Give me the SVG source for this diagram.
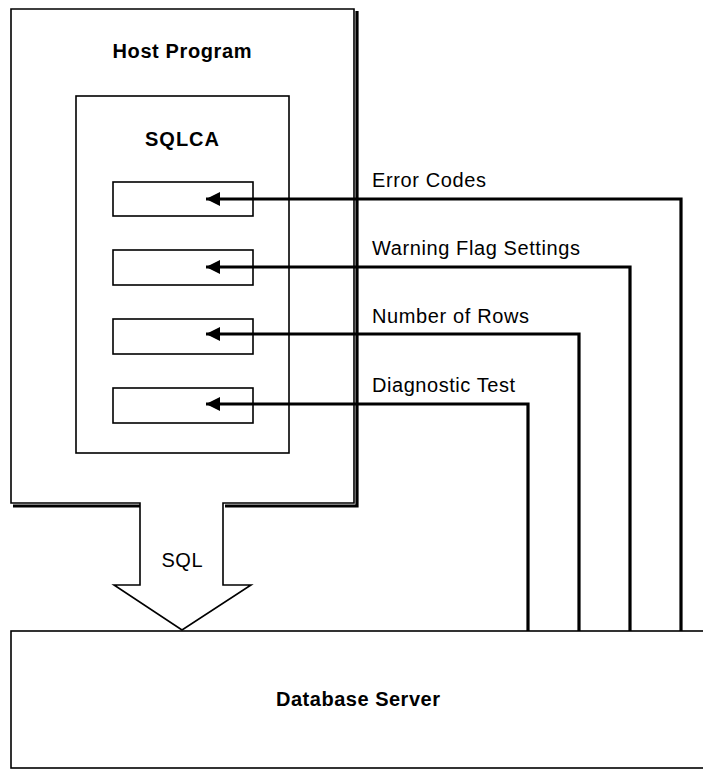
<svg xmlns="http://www.w3.org/2000/svg" width="703" height="769" viewBox="0 0 703 769">
<style>
.box{fill:none;stroke:#000;stroke-width:1.6}
.shadow{fill:none;stroke:#000;stroke-width:3.2}
.conn{fill:none;stroke:#000;stroke-width:3.2}
.t{font-family:"Liberation Sans",Arial,sans-serif;font-size:20px;fill:#000}
.b{font-family:"Liberation Sans",Arial,sans-serif;font-size:20px;font-weight:bold;fill:#000}
</style>
<defs>
<marker id="ah" viewBox="0 0 10 10" refX="10" refY="5" markerWidth="15" markerHeight="14" markerUnits="userSpaceOnUse" orient="auto">
<path d="M0,0 L10,5 L0,10 Z" fill="#000"/>
</marker>
</defs>
<rect width="703" height="769" fill="#fff"/>
<g id="database-server">
<rect x="11" y="631" width="700" height="137" class="box"/>
<text class="b" x="358" y="706" text-anchor="middle" textLength="164">Database Server</text>
</g>
<g id="host-program">
<polyline class="shadow" points="357,11 357,506 225,506"/>
<polyline class="shadow" points="13,506 140,506"/>
<polygon class="box" points="11,9 354,9 354,503 223,503 223,585 251,585 182,630 114,585 140,585 140,503 11,503" style="fill:#fff"/>
<text class="b" x="182" y="58" text-anchor="middle" textLength="139">Host Program</text>
<text class="t" x="182" y="567" text-anchor="middle" textLength="41">SQL</text>
</g>
<g id="sqlca">
<rect x="76" y="96" width="213" height="357" class="box"/>
<text class="b" x="182" y="146" text-anchor="middle" textLength="74">SQLCA</text>
</g>
<g id="field-1"><rect x="113" y="182" width="140" height="34" class="box"/></g>
<g id="field-2"><rect x="113" y="250" width="140" height="35" class="box"/></g>
<g id="field-3"><rect x="113" y="319" width="140" height="35" class="box"/></g>
<g id="field-4"><rect x="113" y="388" width="140" height="35" class="box"/></g>
<g id="connectors">
<polyline class="conn" points="681,631 681,199 206,199" marker-end="url(#ah)"/>
<polyline class="conn" points="630,631 630,267 206,267" marker-end="url(#ah)"/>
<polyline class="conn" points="579,631 579,334 206,334" marker-end="url(#ah)"/>
<polyline class="conn" points="528,631 528,404 206,404" marker-end="url(#ah)"/>
</g>
<g id="labels">
<text class="t" x="372" y="187" textLength="114">Error Codes</text>
<text class="t" x="372" y="255" textLength="208">Warning Flag Settings</text>
<text class="t" x="372" y="323" textLength="157">Number of Rows</text>
<text class="t" x="372" y="392" textLength="143">Diagnostic Test</text>
</g>
</svg>
